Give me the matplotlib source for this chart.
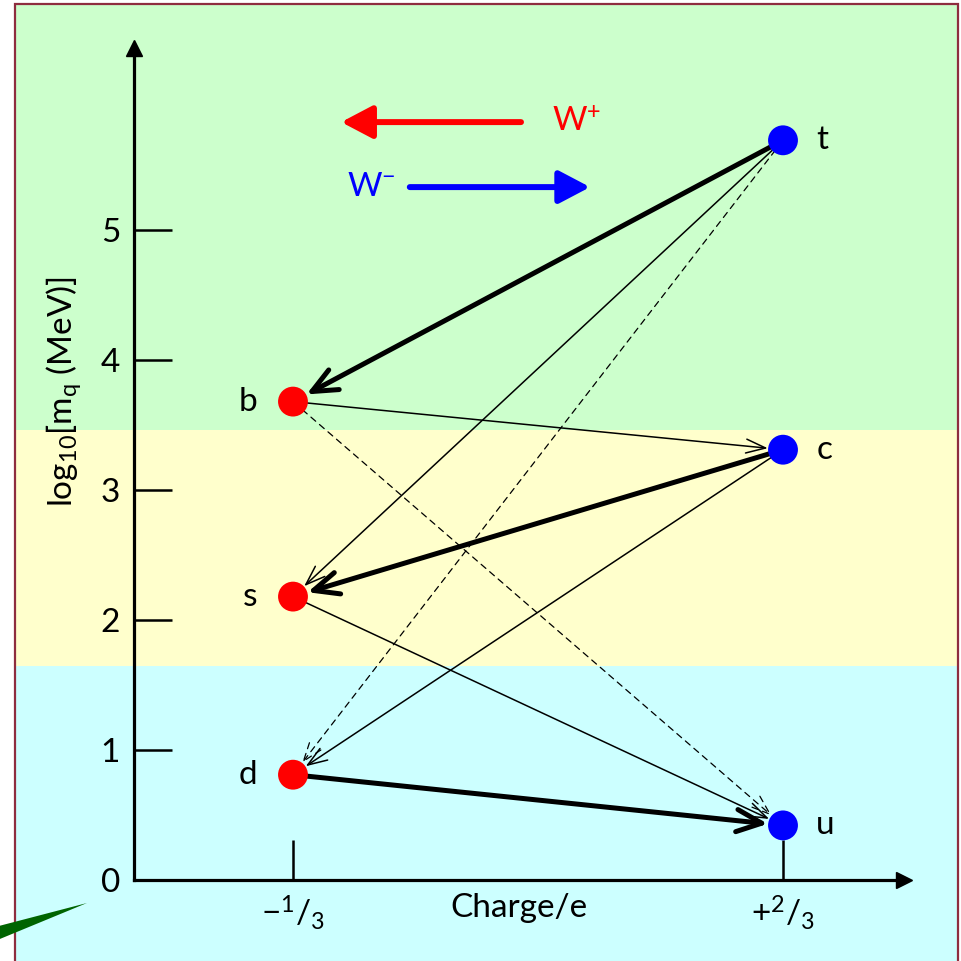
import numpy as np
import matplotlib
matplotlib.use("Agg")
import matplotlib.pyplot as plt
from matplotlib.patches import Rectangle, Polygon

plt.rcParams['font.family'] = ['Lato', 'DejaVu Sans']
plt.rcParams['mathtext.fontset'] = 'custom'
plt.rcParams['mathtext.rm'] = 'Lato'
plt.rcParams['mathtext.it'] = 'Lato:italic'
plt.rcParams['mathtext.bf'] = 'Lato:bold'

# === DATA ===
quarks = ['t', 'c', 'u', 'b', 's', 'd']
charge = [2/3, 2/3, 2/3, -1/3, -1/3, -1/3]
log_mass = [5.69, 3.31, 0.42, 3.68, 2.18, 0.81]
q_colors = ['#0000ff'] * 3 + ['#ff0000'] * 3

# transizioni (da, a, stile)
transitions = [
    ('t', 'b', 'thick'), ('c', 's', 'thick'), ('d', 'u', 'thick'),
    ('t', 's', 'thin'), ('b', 'c', 'thin'), ('c', 'd', 'thin'), ('s', 'u', 'thin'),
    ('t', 'd', 'dashed'), ('b', 'u', 'dashed'),
]

x_ticks = [-1/3, 2/3]
x_ticklabels = [r'$\mathrm{-}^{1}/_{3}$', r'$+^{2}/_{3}$']
y_ticks = [0, 1, 2, 3, 4, 5]

# bande di sfondo (limiti in log10 m)
band_edges = [-1.0, 1.65, 3.46, 6.74]
band_colors = ['#ccffff', '#ffffcc', '#ccffcc']

# legenda W: (x coda, x punta, y)
w_plus = (0.132, -0.235, 5.83)
w_minus = (-0.095, 0.273, 5.33)

FS = 24

# === FIGURE ===
fig = plt.figure(figsize=(9.61, 9.61), dpi=100)
fig.patch.set_facecolor('white')
ax = fig.add_axes([134/961, 81/961, 770/961, 832/961])
ax.patch.set_alpha(0)
ax.set_xlim(-0.6578, 0.9136)
ax.set_ylim(0, 6.4)

for sp in ['top', 'right']:
    ax.spines[sp].set_visible(False)
for sp in ['left', 'bottom']:
    ax.spines[sp].set_linewidth(2.3)
    ax.spines[sp].set_zorder(3)

# frecce sugli assi
ax.plot(0, 1, '^', color='k', ms=11.5, transform=ax.transAxes, clip_on=False, zorder=3)
ax.plot(1, 0, '>', color='k', ms=11.5, transform=ax.transAxes, clip_on=False, zorder=3)

# bande colorate
for lo, hi, col in zip(band_edges[:-1], band_edges[1:], band_colors):
    r = ax.axhspan(lo, hi, xmin=-0.1545, xmax=1.072, color=col, lw=0, zorder=0)
    r.set_clip_on(False)

ax.set_yticks(y_ticks)
ax.set_xticks(x_ticks)
ax.set_xticklabels(x_ticklabels)
ax.tick_params(axis='y', direction='in', length=27.5, width=1.8, pad=10, labelsize=FS)
ax.tick_params(axis='x', direction='in', length=28.8, width=1.8, pad=10, labelsize=FS)

ax.set_xlabel('Charge/e', fontsize=FS)
ax.xaxis.set_label_coords(0.5, -0.016)
ax.set_ylabel(r'log$_{10}$[m$_{\mathrm{q}}$ (MeV)]', fontsize=FS)
ax.yaxis.set_label_coords(-0.066, 0.587)

pos = {q: (x, y) for q, x, y in zip(quarks, charge, log_mass)}

styles = {
    'thick': dict(lw=3.6, ls='-', arrowstyle='->,head_length=0.9,head_width=0.4'),
    'thin': dict(lw=1.1, ls='-', arrowstyle='->,head_length=0.7,head_width=0.25'),
    'dashed': dict(lw=0.9, ls=(0, (5, 4)), arrowstyle='->,head_length=0.7,head_width=0.25'),
}
for a, b, st in transitions:
    s = styles[st]
    ax.annotate('', xy=pos[b], xytext=pos[a],
                arrowprops=dict(arrowstyle=s['arrowstyle'], lw=s['lw'], ls=s['ls'],
                                color='k', shrinkA=9, shrinkB=11, mutation_scale=20),
                zorder=4)

ax.scatter(charge, log_mass, s=21.5**2, c=q_colors, zorder=5, clip_on=False, linewidths=0)

for q, x, y in zip(quarks, charge, log_mass):
    if x > 0:
        ax.annotate(q, (x, y), xytext=(24, 0), textcoords='offset points',
                    ha='left', va='center', fontsize=FS)
    else:
        ax.annotate(q, (x, y), xytext=(-26, 0), textcoords='offset points',
                    ha='right', va='center', fontsize=FS)

# frecce W+ / W-
ax.annotate('', xy=(w_plus[1], w_plus[2]), xytext=(w_plus[0], w_plus[2]),
            arrowprops=dict(arrowstyle='-|>,head_length=0.95,head_width=0.5',
                            lw=4.3, color='#ff0000', shrinkA=0, shrinkB=0, mutation_scale=20))
ax.annotate(r'W$^{+}$', (w_plus[0], w_plus[2]), xytext=(22, 0), textcoords='offset points',
            ha='left', va='center', fontsize=FS, color='#ff0000')
ax.annotate('', xy=(w_minus[1], w_minus[2]), xytext=(w_minus[0], w_minus[2]),
            arrowprops=dict(arrowstyle='-|>,head_length=0.95,head_width=0.5',
                            lw=4.3, color='#0000ff', shrinkA=0, shrinkB=0, mutation_scale=20))
ax.annotate(r'W$^{-}$', (w_minus[0], w_minus[2]), xytext=(-10, 0), textcoords='offset points',
            ha='right', va='center', fontsize=FS, color='#0000ff')

# cornice e freccia verde
fig.patches.append(Rectangle((15/961, -0.05), 943/961, 1.05 - 4/961, transform=fig.transFigure,
                             fill=False, ec='#8e2d3f', lw=1.6, zorder=5))
wedge_px = [(87, 903), (-5, 927), (-5, 941)]
fig.patches.append(Polygon([(x/961, 1 - y/961) for x, y in wedge_px], closed=True,
                           transform=fig.transFigure, fc='#006400', ec='none', zorder=6))

fig.savefig('out.png', dpi=100)
